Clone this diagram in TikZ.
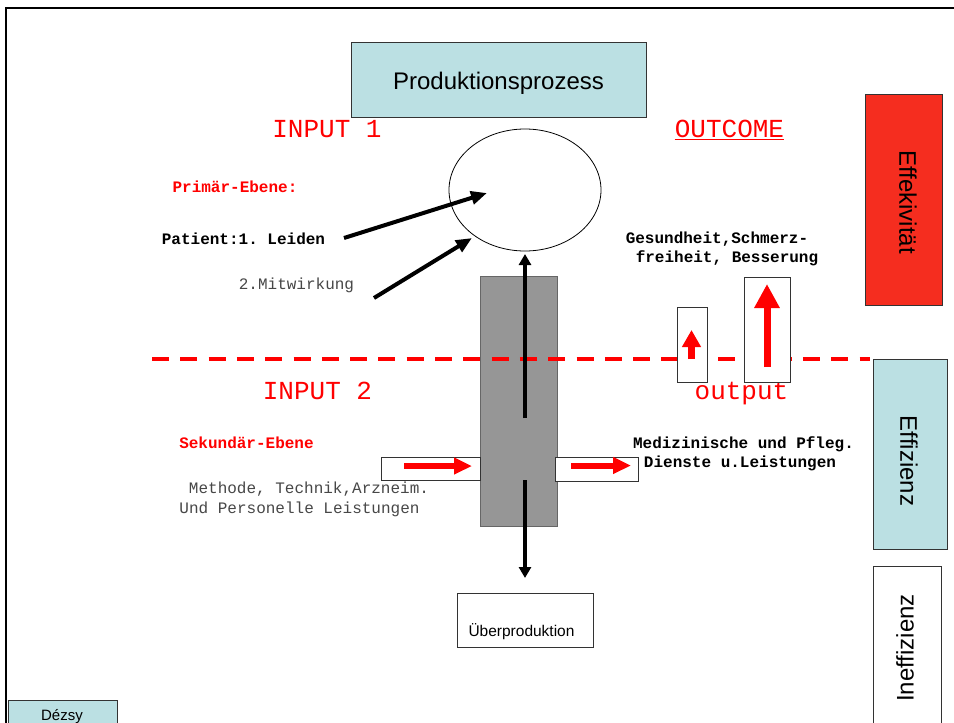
\documentclass[tikz,border=0pt]{standalone}
\usepackage{fontspec}
\setmainfont{Liberation Sans}
\newfontfamily\courfont{Liberation Mono}
\usetikzlibrary{arrows.meta,shapes.geometric}
\definecolor{lblue}{HTML}{BBE0E3}
\definecolor{effred}{HTML}{F52D1F}
\definecolor{bargrey}{HTML}{969696}
\frenchspacing
\begin{document}
\begin{tikzpicture}[x=1pt,y=-1pt,
  box/.style={draw=black!80, line width=0.8pt, inner sep=0pt},
  monob/.style={font=\courfont\bfseries\fontsize{16}{19}\selectfont, inner sep=0pt, anchor=base},
  mono/.style={font=\courfont\fontsize{16}{19}\selectfont, inner sep=0pt, anchor=base, text=black!72},
  bigred/.style={font=\courfont\fontsize{26}{30}\selectfont, inner sep=0pt, anchor=base, text=red},
  sidelabel/.style={font=\fontsize{24}{28}\selectfont, inner sep=0pt},
  blackarrow/.style={line width=4pt, -{Triangle[length=16pt,width=13pt]}},
  vertarrow/.style={line width=4pt, -{Triangle[length=11pt,width=12pt]}},
  redarrow/.style={draw=red, line width=6pt, -{Triangle[length=18pt,width=16pt]}},
]
\useasboundingbox (0,0) rectangle (954,723);
\fill[white] (0,0) rectangle (954,723);
\clip (0,0) rectangle (954,723);

% frame
\draw[line width=2pt] (6,730) -- (6,8) -- (960,8);

% top process box
\node[box, fill=lblue, minimum width=295pt, minimum height=75pt] (prod) at (498.5,79.5) {};
\node[inner sep=0pt, font=\fontsize{24}{28}\selectfont] (prodtxt) at (498.5,83) {Produktionsprozess};

% section titles
\node[bigred] (in1) at (327,137) {INPUT 1};
\node[bigred] (outc) at (729.5,137) {OUTCOME};
\draw[red, line width=1pt] ([yshift=-2pt]outc.base west) -- ([yshift=-2pt]outc.base east);
\node[bigred] (in2) at (317.5,399) {INPUT 2};
\node[bigred] (outp) at (741.5,399) {output};

% ellipse
\node[draw, ellipse, line width=0.8pt, minimum width=152pt, minimum height=122pt, inner sep=0pt] (ell) at (525,190) {};

% left texts
\node[monob, text=red] (prim) at (235,192) {Primär-Ebene:};
\node[monob] (pat) at (243.5,244) {Patient:1. Leiden};
\node[mono] (mitw) at (296.5,289) {2.Mitwirkung};
\node[monob, text=red] (sek) at (246.5,448) {Sekundär-Ebene};
\node[mono] (meth1) at (309,493) {Methode, Technik,Arzneim.};
\node[mono] (meth2) at (299.5,513) {Und Personelle Leistungen};

% right texts
\node[monob] (ges1) at (717,243) {Gesundheit,Schmerz-};
\node[monob] (ges2) at (727,262) {freiheit, Besserung};
\node[monob] (med1) at (743.5,448) {Medizinische und Pfleg.};
\node[monob] (med2) at (740,467) {Dienste u.Leistungen};

% grey bar
\node[draw=black!60, line width=0.8pt, fill=bargrey, minimum width=77pt, minimum height=250pt, inner sep=0pt] (bar) at (518.5,401) {};

% dashed line
\coordinate (dashL) at (152,359);
\coordinate (dashR) at (870,359);
\draw[red, line width=4.5pt, dash pattern=on 17pt off 11.3pt] (dashL) -- (dashR);

% side boxes
\node[box, fill=effred, minimum width=77pt, minimum height=211pt] (effbox) at (903.5,199.5) {};
\node[sidelabel, rotate=-90] (efftxt) at (908,202) {Effekivität};
\node[box, fill=lblue, minimum width=74pt, minimum height=190pt] (ezbox) at (910,454) {};
\node[sidelabel, rotate=-90] (eztxt) at (909,461) {Effizienz};
\node[box, fill=white, minimum width=68pt, minimum height=164pt] (inbox) at (907,648) {};
\node[sidelabel, rotate=90] (intxt) at (905,648) {Ineffizienz};

% output boxes with red up arrows
\node[box, fill=white, minimum width=30pt, minimum height=75pt] (smallbox) at (692,344.5) {};
\node[box, fill=white, minimum width=46pt, minimum height=105pt] (bigbox) at (767,329.5) {};
\coordinate (sa1) at (691.5,359);
\coordinate (sa2) at (691.5,330);
\coordinate (ba1) at (767,367);
\coordinate (ba2) at (767,284);
\draw[red, line width=7pt, -{Triangle[length=17pt,width=18pt]}] (sa1) -- (sa2);
\draw[red, line width=7pt, -{Triangle[length=24pt,width=24pt]}] (ba1) -- (ba2);

% input/output small boxes with red arrows
\node[box, fill=white, minimum width=99pt, minimum height=23pt] (lbox) at (430.5,468.5) {};
\node[box, fill=white, minimum width=83pt, minimum height=24pt] (rbox) at (596.5,469) {};
\coordinate (la1) at (404,466);
\coordinate (la2) at (472,466);
\coordinate (ra1) at (571,465.5);
\coordinate (ra2) at (631,465.5);
\draw[redarrow] (la1) -- (la2);
\draw[redarrow] (ra1) -- (ra2);

% black input arrows
\coordinate (a1s) at (344,238);
\coordinate (a1e) at (487,193);
\coordinate (a2s) at (374,298);
\coordinate (a2e) at (472,238);
\draw[blackarrow] (a1s) -- (a1e);
\draw[blackarrow] (a2s) -- (a2e);

% vertical arrows
\coordinate (up1) at (525,418);
\coordinate (up2) at (525,254);
\coordinate (dn1) at (525,480);
\coordinate (dn2) at (525,578);
\draw[vertarrow] (up1) -- (up2);
\draw[vertarrow] (dn1) -- (dn2);

% overproduction
\node[box, fill=white, minimum width=136pt, minimum height=54pt] (uebox) at (525,620.5) {};
\node[inner sep=0pt, anchor=base, font=\fontsize{15.5}{18}\selectfont] (uetxt) at (521.5,636.5) {Überproduktion};

% author
\node[box, fill=lblue, minimum width=109pt, minimum height=30pt] (dbox) at (62.5,715) {};
\node[inner sep=0pt, anchor=base, font=\fontsize{15}{18}\selectfont] (dtxt) at (62,720.5) {Dézsy};
\end{tikzpicture}
\end{document}
